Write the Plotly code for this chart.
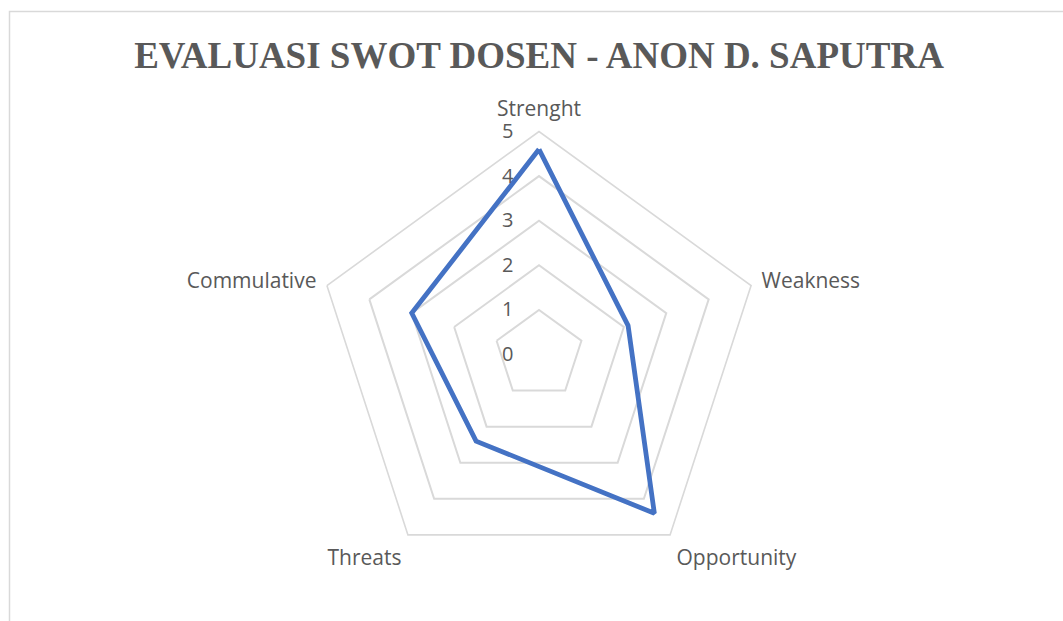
import plotly.graph_objects as go

categories = ["Strenght", "Weakness", "Opportunity", "Threats", "Commulative"]
values = [4.6, 2.1, 4.4, 2.4, 3.0]
radial_ticks = [0, 1, 2, 3, 4, 5]
title_text = "EVALUASI SWOT DOSEN - ANON D. SAPUTRA"

W, H = 1063, 621
cx, cy, R = 539, 354.5, 223

fig = go.Figure()
fig.add_trace(go.Scatterpolar(
    r=values + values[:1],
    theta=categories + categories[:1],
    mode="lines",
    line=dict(color="#4472C4", width=4.8),
    showlegend=False,
    hoverinfo="skip",
))

fig.update_layout(
    width=W, height=H,
    margin=dict(l=0, r=0, t=0, b=0),
    paper_bgcolor="white",
    plot_bgcolor="white",
    title=dict(
        text=f"<b>{title_text}</b>",
        x=cx / W, xanchor="center",
        y=1 - 55 / H, yanchor="middle",
        font=dict(family="Liberation Serif", size=37, color="#595959"),
    ),
    polar=dict(
        domain=dict(x=[(cx - R) / W, (cx + R) / W], y=[(H - cy - R) / H, (H - cy + R) / H]),
        gridshape="linear",
        bgcolor="white",
        radialaxis=dict(
            range=[0, 5],
            tickvals=radial_ticks,
            angle=90,
            tickangle=90,
            side="counterclockwise",
            showline=False,
            ticks="outside",
            ticklen=18,
            tickcolor="rgba(0,0,0,0)",
            gridcolor="#d9d9d9",
            gridwidth=1.6,
            tickfont=dict(family="Open Sans", size=20, color="#595959"),
        ),
        angularaxis=dict(
            rotation=90,
            direction="clockwise",
            showgrid=False,
            showline=True,
            linecolor="#d9d9d9",
            linewidth=1.6,
            ticks="outside",
            ticklen=6,
            tickcolor="rgba(0,0,0,0)",
            tickfont=dict(family="Open Sans", size=21, color="#595959"),
        ),
    ),
    shapes=[dict(
        type="rect", xref="paper", yref="paper",
        x0=9.5 / W, x1=1.2, y0=-0.2, y1=1 - 11.5 / H,
        line=dict(color="#d9d9d9", width=1.5),
        fillcolor="rgba(0,0,0,0)",
        layer="below",
    )],
)

fig.write_html("out.html", config={"displayModeBar": False},
               post_script="document.body.style.margin='0';")
